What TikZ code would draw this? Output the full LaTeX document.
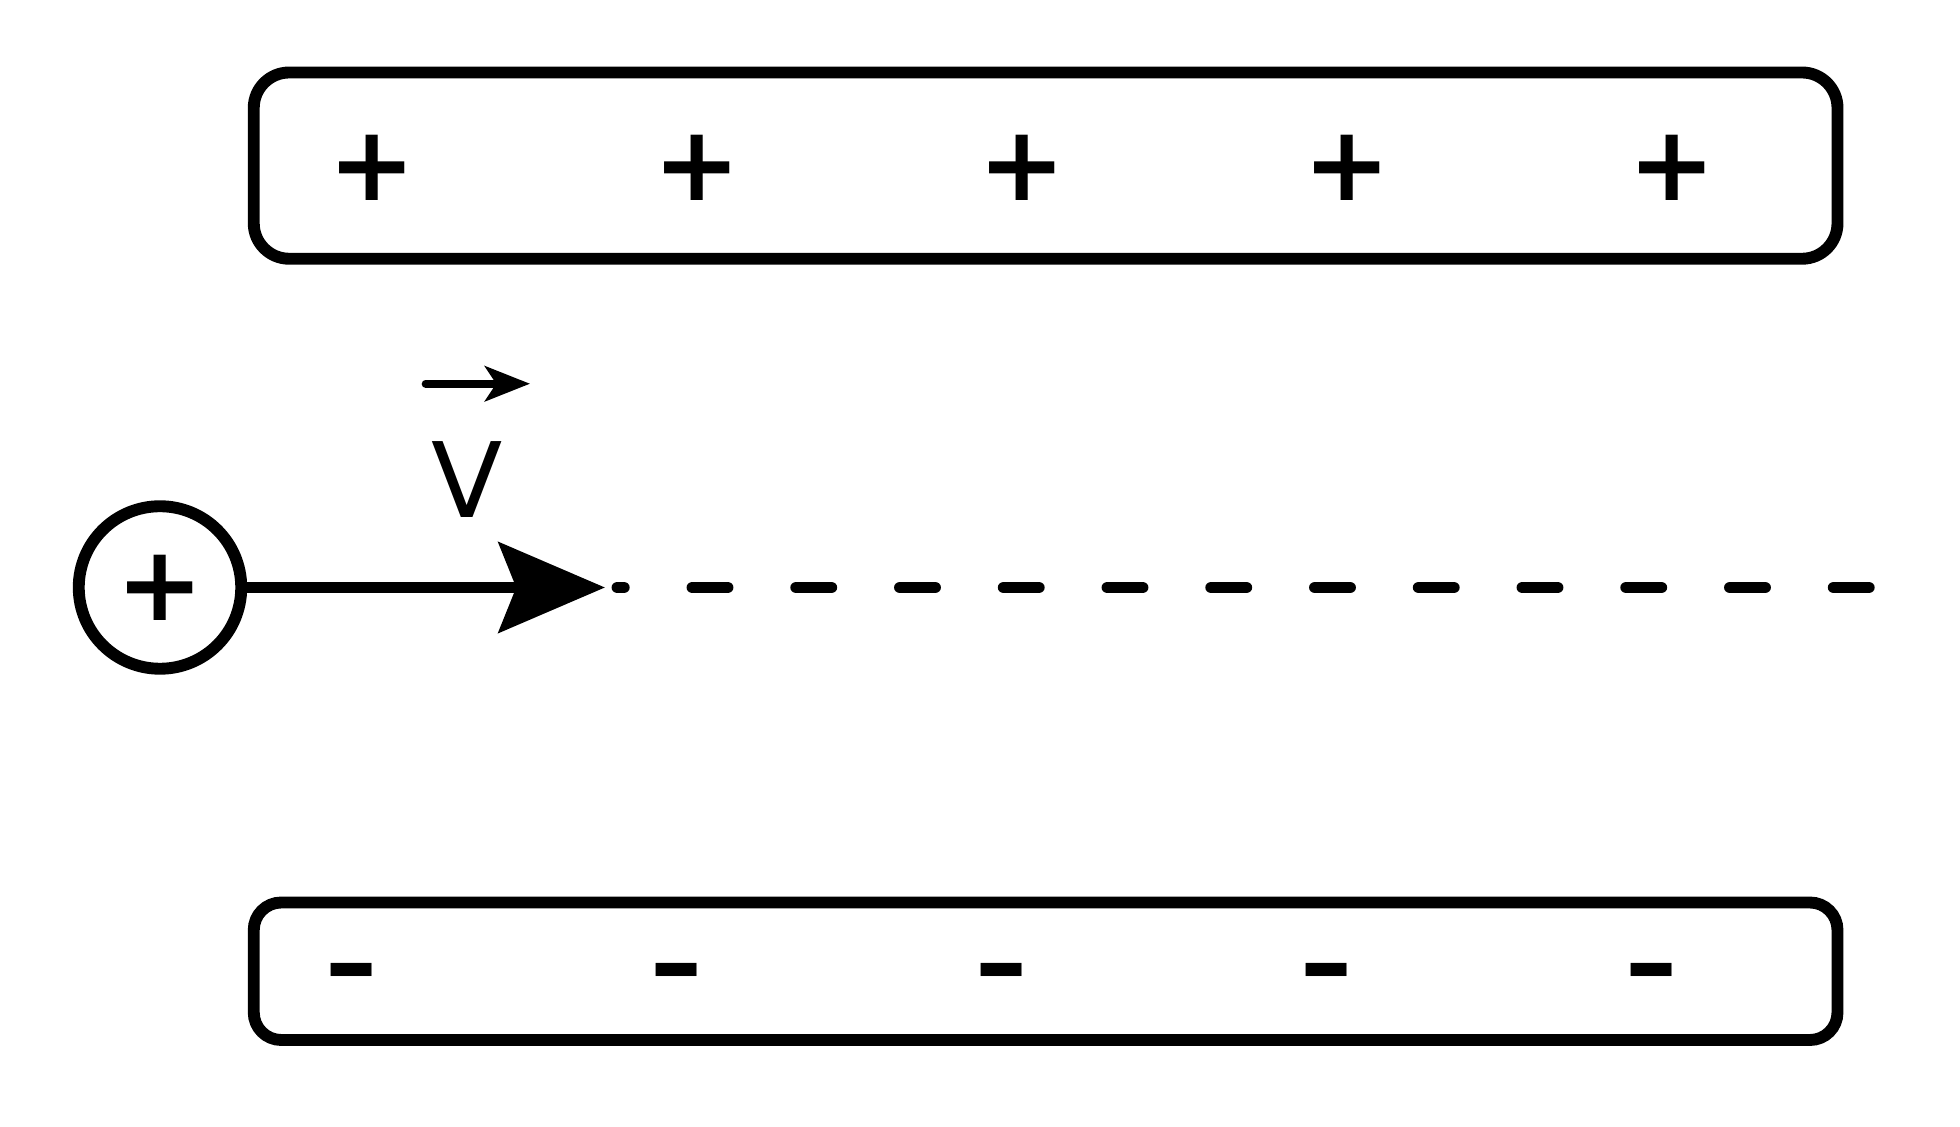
\documentclass[tikz,border=0pt]{standalone}
\usepackage{fontspec}
\setmainfont{DejaVu Sans}
\usetikzlibrary{arrows.meta}
\begin{document}
\begin{tikzpicture}[x=0.3pt,y=-0.3pt,node distance=78pt,line width=2.85pt]
	\tikzstyle{plate1} = [rectangle,rounded corners=8.5pt,draw=black,minimum width=380.1pt,
	minimum height=44.7pt,inner sep=0pt]
	\tikzstyle{plate2} = [rectangle,rounded corners=6.6pt,draw=black,minimum width=380.1pt,
	minimum height=33pt,inner sep=0pt]
	\tikzstyle{sign} = [inner sep=0pt,text height=16pt,text depth=0pt,font=\fontsize{25}{30}\bfseries]
	\tikzstyle{sign2} = [inner sep=0pt,text height=13pt,text depth=0pt,font=\fontsize{25}{30}\bfseries]
	\tikzstyle{ion} = [circle,draw=black,minimum size=39pt,inner sep=0pt,text height=16pt,
	text depth=0pt,font=\fontsize{25}{30}\bfseries]
	\tikzstyle{move} = [-{Stealth[length=25.5pt,width=21.6pt,inset=4.2pt]}]
	\tikzstyle{path} = [line cap=round,dash pattern=on 8.4pt off 16.5pt,dash phase=6.9pt]
	\useasboundingbox (0,0) rectangle (1568,901.6);
	\node (plate1) [plate1] at (836.5,132.5) {};
	\node (plate2) [plate2] at (836.5,777) {};
	\node (plus1) [sign] at (298,134) {+};
	\node (plus2) [sign, right of=plus1] {+};
	\node (plus3) [sign, right of=plus2] {+};
	\node (plus4) [sign, right of=plus3] {+};
	\node (plus5) [sign, right of=plus4] {+};
	\node (minus1) [sign2] at (281,777) {–};
	\node (minus2) [sign2, right of=minus1] {–};
	\node (minus3) [sign2, right of=minus2] {–};
	\node (minus4) [sign2, right of=minus3] {–};
	\node (minus5) [sign2, right of=minus4] {–};
	\node (ion) [ion] at (128,470) {+};
	\coordinate (tip) at (484,470);
	\coordinate (far) at (1499,470);
	\draw [move] (ion) -- (tip);
	\draw [path] ([xshift=3pt]tip) -- (far);
	\node (vel) [font=\fontsize{25}{30}\selectfont,inner sep=0pt] at (374,384) {V};
	\coordinate (vtail) at (340.5,307);
	\coordinate (vhead) at (424,307);
	\draw [line width=1.9pt,line cap=round,-{Stealth[length=10.8pt,width=8.4pt,inset=2.7pt]}] (vtail) -- (vhead);
\end{tikzpicture}
\end{document}
